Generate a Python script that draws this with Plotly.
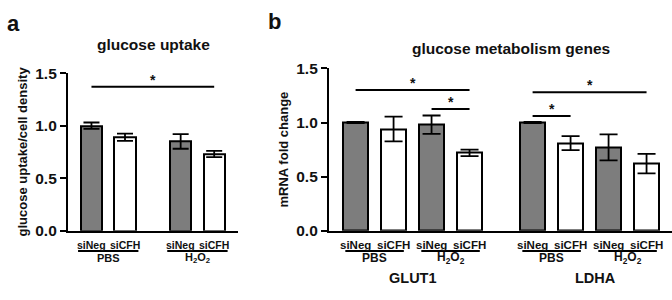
import plotly.graph_objects as go

W, H = 672, 300

# ---------------- data ----------------
conds = ["siNeg", "siCFH"]
treat = ["PBS", "H<sub>2</sub>O<sub>2</sub>"]

# panel a: glucose uptake (siNeg PBS, siCFH PBS, siNeg H2O2, siCFH H2O2)
uptake_vals = [1.00, 0.89, 0.85, 0.73]
uptake_err = [0.03, 0.035, 0.07, 0.03]

# panel b: genes
genes = ["GLUT1", "LDHA"]
glut1_vals = [1.00, 0.94, 0.98, 0.72]
glut1_err = [0.005, 0.115, 0.085, 0.03]
ldha_vals = [1.00, 0.81, 0.77, 0.62]
ldha_err = [0.005, 0.065, 0.12, 0.09]

yticks = [0.0, 0.5, 1.0, 1.5]
ytick_text = ["0.0", "0.5", "1.0", "1.5"]

GRAY = "#7d7d7d"
fills = [GRAY, "white", GRAY, "white"]

def px(x):
    return x / W

def py(y):
    return 1 - y / H

fig = go.Figure()

# positions
pos_a = [0, 1, 2.66, 3.66]
pos_b_g = [0, 1, 2, 3]
pos_b_l = [4.66, 5.66, 6.66, 7.66]

fig.add_trace(go.Bar(
    x=pos_a, y=uptake_vals, width=0.63,
    marker=dict(color=fills, line=dict(color="black", width=2)),
    error_y=dict(type="data", array=uptake_err, color="black", thickness=1.8, width=8),
    xaxis="x", yaxis="y", showlegend=False, hoverinfo="skip"))

fig.add_trace(go.Bar(
    x=pos_b_g + pos_b_l, y=glut1_vals + ldha_vals, width=0.66,
    marker=dict(color=fills + fills, line=dict(color="black", width=2)),
    error_y=dict(type="data", array=glut1_err + ldha_err, color="black", thickness=1.8, width=9),
    xaxis="x2", yaxis="y2", showlegend=False, hoverinfo="skip"))

yax_common = dict(range=[0, 1.5], tickvals=yticks, ticktext=ytick_text,
                  showline=True, linecolor="black", linewidth=2.2,
                  ticks="outside", ticklen=6, tickwidth=2, tickcolor="black",
                  showgrid=False, zeroline=False,
                  tickfont=dict(family="Liberation Sans", size=15.5, color="#111", weight="bold"))
xax_common = dict(showline=True, linecolor="black", linewidth=2.2, ticks="",
                  showticklabels=False, showgrid=False, zeroline=False)

fig.update_layout(
    width=W, height=H,
    margin=dict(l=0, r=0, t=0, b=0),
    paper_bgcolor="white", plot_bgcolor="white",
    font=dict(family="Liberation Sans", color="#111"),
    xaxis=dict(domain=[px(68), px(238)], range=[-0.70, 4.37], anchor="y", **xax_common),
    yaxis=dict(domain=[py(235), py(68)], anchor="x",
               title=dict(text="<b>glucose uptake/cell density</b>", font=dict(size=13), standoff=5),
               **yax_common),
    xaxis2=dict(domain=[px(329), 1.0], range=[-0.70, 8.33], anchor="y2", **xax_common),
    yaxis2=dict(domain=[py(235), py(63)], anchor="x2",
                title=dict(text="<b>mRNA fold change</b>", font=dict(size=13), standoff=5),
                **yax_common),
    bargap=0,
)

ann = []
shapes = []

def txt(text, x, y, size, xref="paper", yref="paper", **kw):
    ann.append(dict(text=text, x=x, y=y, xref=xref, yref=yref, showarrow=False,
                    font=dict(size=size, color="#111", family="Liberation Sans"), **kw))

# panel letters and titles
txt("<b>a</b>", px(5), py(15), 22, xanchor="left", yanchor="middle")
txt("<b>b</b>", px(266), py(13), 22, xanchor="left", yanchor="middle")
txt("<b>glucose uptake</b>", px(153), py(38), 15.5, xanchor="center", yanchor="middle")
txt("<b>glucose metabolism genes</b>", px(511), py(42), 15.5, xanchor="center", yanchor="middle")

# x labels
def group_labels(xref, positions, halfw, size):
    for i, p in enumerate(positions):
        txt("<b>" + conds[i % 2] + "</b>", p, py(250), size, xref=xref, xanchor="center", yanchor="middle")
    for g in range(2):
        c = (positions[2 * g] + positions[2 * g + 1]) / 2
        shapes.append(dict(type="line", xref=xref, yref="paper", x0=c - halfw, x1=c + halfw,
                           y0=py(256.5), y1=py(256.5), line=dict(color="black", width=2)))
        txt("<b>" + treat[g] + "</b>", c, py(264), size + 0.5, xref=xref, xanchor="center", yanchor="middle")

group_labels("x", pos_a, 0.9, 10.5)
group_labels("x2", pos_b_g, 0.77, 11.5)
group_labels("x2", pos_b_l, 0.77, 11.5)

txt("<b>GLUT1</b>", sum(pos_b_g) / 4, py(285), 14.5, xref="x2", xanchor="center", yanchor="middle")
txt("<b>LDHA</b>", sum(pos_b_l) / 4 + 0.15, py(285), 14.5, xref="x2", xanchor="center", yanchor="middle")

# significance bars
def sig(xref, yref, x0, x1, y):
    shapes.append(dict(type="line", xref=xref, yref=yref, x0=x0, x1=x1, y0=y, y1=y,
                       line=dict(color="black", width=2)))
    txt("<b>*</b>", (x0 + x1) / 2, y, 14, xref=xref, yref=yref, xanchor="center", yanchor="bottom", yshift=-3)

sig("x", "y", pos_a[0], pos_a[3], 1.37)
sig("x2", "y2", pos_b_g[0], pos_b_g[3], 1.30)
sig("x2", "y2", pos_b_g[2], pos_b_g[3], 1.125)
sig("x2", "y2", pos_b_l[0], pos_b_l[3], 1.28)
sig("x2", "y2", pos_b_l[0], pos_b_l[1], 1.06)

fig.update_layout(annotations=ann, shapes=shapes)

fig.write_html("out.html", config={"displayModeBar": False},
               post_script="document.body.style.margin='0';")
